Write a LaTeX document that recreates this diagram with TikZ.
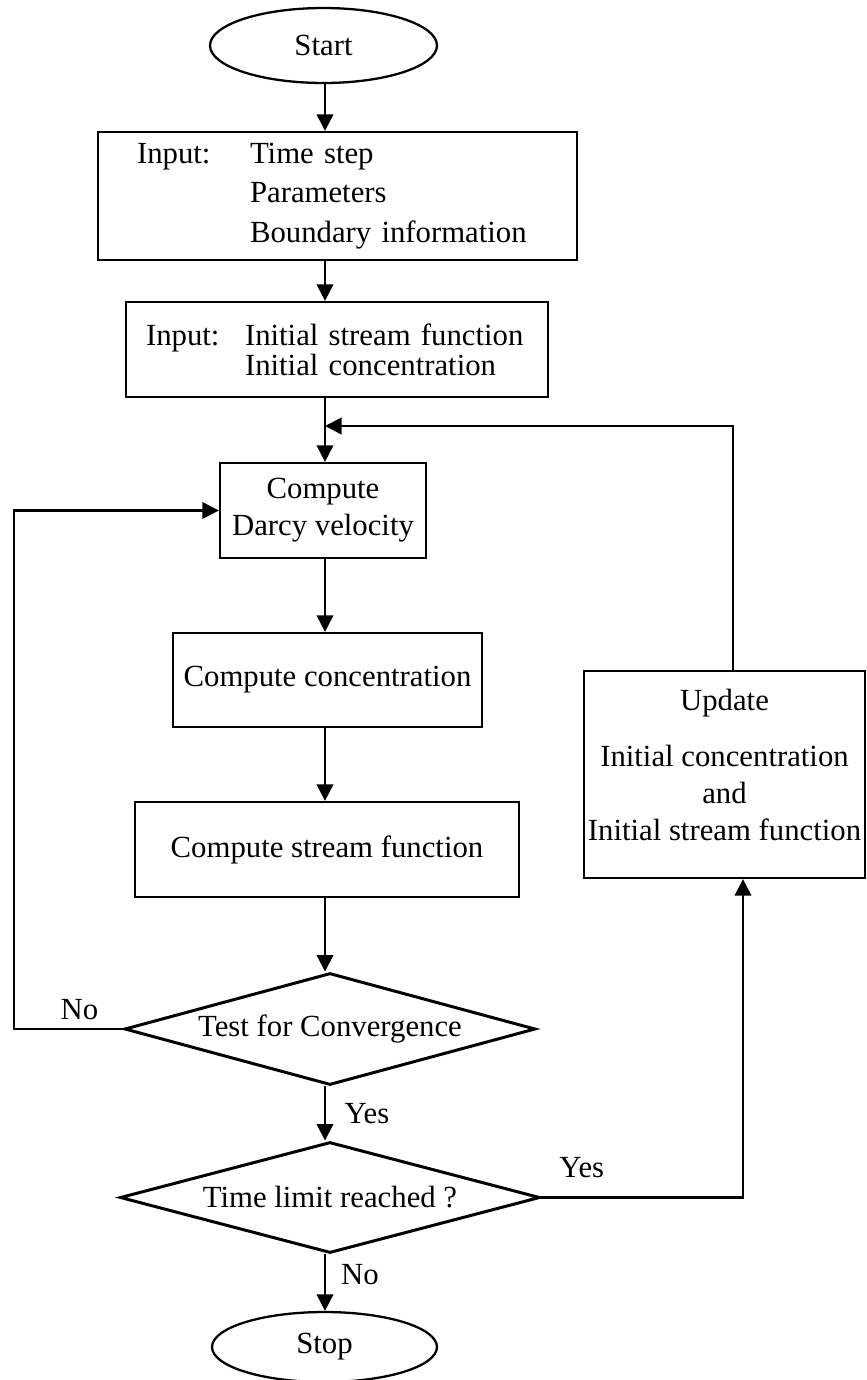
\documentclass[tikz,border=0pt]{standalone}
\usepackage{fontspec}
\setmainfont{Liberation Serif}
\usetikzlibrary{shapes.geometric,arrows.meta}

\begin{document}
\begin{tikzpicture}[x=0.02cm, y=-0.02cm,
    every node/.style={font=\fontsize{17.5}{21}\selectfont},
    blockbox/.style={draw, line width=1.3pt, rectangle},
    termin/.style={draw, line width=1.3pt, ellipse, inner sep=0pt},
    decision/.style={draw, line width=1.7pt, diamond, aspect=3.6, inner sep=0pt},
    flowarrow/.style={line width=1.2pt, -{Triangle[length=0.33cm,width=0.33cm]}},
    lbl/.style={inner sep=2pt}]
    \useasboundingbox (0,0) rectangle (866,1380);
    % rails for the connectors
    \coordinate (spine) at (325,0);
    \coordinate (leftrail) at (14,0);
    \coordinate (rightrail) at (743,0);
    \coordinate (toprail) at (733,0);
    \coordinate (rejoin) at (325,426);

    \node[termin, minimum width=4.54cm, minimum height=1.5cm] (start) at (323.5,45.5) {Start};
    \node[blockbox, text width=8.02cm, inner xsep=0.78cm, minimum height=2.56cm, align=left]
        (input1) at (337.5,196)
        {\makebox[2.26cm][l]{Input:}Time step\\[0.05cm] \hspace*{2.26cm}Parameters\\[0.05cm] \hspace*{2.26cm}Boundary information};
    \node[blockbox, text width=7.64cm, inner xsep=0.4cm, minimum height=1.9cm, align=left]
        (input2) at (337,349.5)
        {\makebox[1.98cm][l]{Input:}Initial stream function\\[-0.14cm] \hspace*{1.98cm}Initial concentration};
    \node[blockbox, minimum width=4.12cm, minimum height=1.9cm, align=center] (darcy) at (323,510.5) {Compute\\ Darcy velocity};
    \node[blockbox, minimum width=6.18cm, minimum height=1.88cm] (conc) at (327.5,680) {Compute concentration};
    \node[blockbox, minimum width=7.68cm, minimum height=1.9cm] (stream) at (327,849.5) {Compute stream function};
    \node[decision, minimum width=8.22cm, minimum height=2.24cm] (test) at (330,1029) {Test for Convergence};
    \node[decision, minimum width=8.4cm, minimum height=2.22cm] (time) at (330,1197.5) {Time limit reached ?};
    \node[termin, minimum width=4.5cm, minimum height=1.4cm] (stop) at (324.5,1347) {Stop};
    \node[blockbox, minimum width=5.62cm, minimum height=4.14cm, inner xsep=0.06cm, align=center]
        (update) at (724.5,774.5)
        {Update\\[0.38cm] Initial concentration\\ and\\ Initial stream function\rule[-0.4cm]{0pt}{0.4cm}};

    % main line
    \draw[flowarrow] (spine |- start.south) -- (spine |- input1.north);
    \draw[flowarrow] (spine |- input1.south) -- (spine |- input2.north);
    \draw[flowarrow] (spine |- input2.south) -- (spine |- darcy.north);
    \draw[flowarrow] (spine |- darcy.south) -- (spine |- conc.north);
    \draw[flowarrow] (spine |- conc.south) -- (spine |- stream.north);
    \draw[flowarrow] (spine |- stream.south) -- (spine |- test.north);
    \draw[flowarrow] (spine |- test.south) -- node[lbl, right=0.3cm] {Yes} (spine |- time.north);
    \draw[flowarrow] (spine |- time.south) -- node[lbl, right=0.23cm, pos=0.35] {No} (spine |- stop.north);

    % loops
    \draw[flowarrow] (test.west) -- node[lbl, above=0.09cm, pos=0.4] {No} (test.west -| leftrail) |- (darcy.west);
    \draw[flowarrow] (time.east) -- node[lbl, above=0.31cm, pos=0.2] {Yes} (time.east -| rightrail) -- (rightrail |- update.south);
    \draw[flowarrow] (update.north -| toprail) |- (rejoin);
\end{tikzpicture}
\end{document}
